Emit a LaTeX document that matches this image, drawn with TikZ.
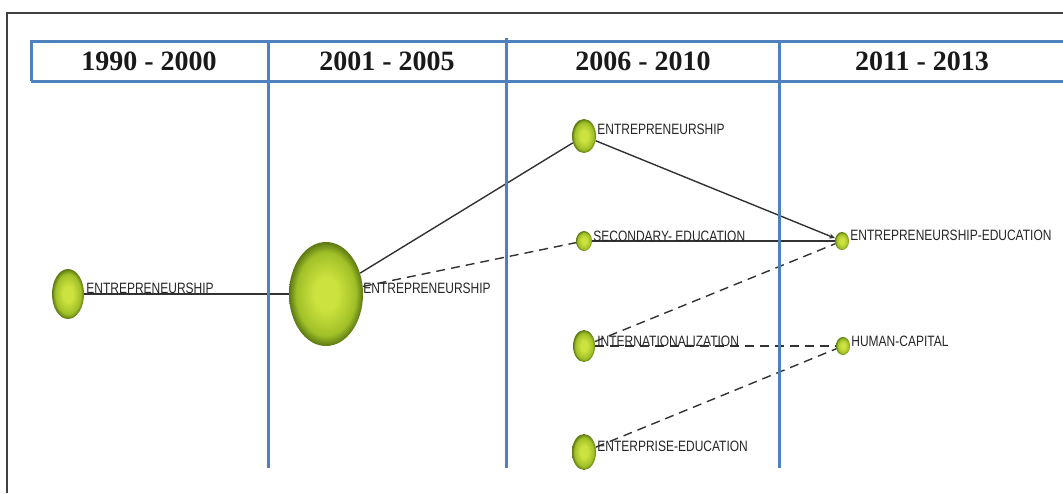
\documentclass[tikz,border=0pt]{standalone}
\usepackage{graphicx}
\usepackage{fontspec}
\setmainfont{Liberation Serif}
\newfontfamily\lblfont{Liberation Sans}
\usetikzlibrary{shapes.geometric,arrows.meta}
\pgfdeclarelayer{bg}
\pgfsetlayers{bg,main}
\definecolor{gcenter}{RGB}{204,226,62}
\definecolor{gmid}{RGB}{160,192,40}
\definecolor{gedge}{RGB}{92,120,18}
\definecolor{tlblue}{RGB}{79,129,189}
\definecolor{edgegray}{RGB}{50,50,50}
\pgfdeclareradialshading{greenball}{\pgfpoint{0bp}{0bp}}{color(0bp)=(gcenter); color(8bp)=(gcenter); color(20bp)=(gmid); color(25bp)=(gedge); color(50bp)=(gedge)}
\newcommand{\lbltext}[1]{\scalebox{0.8}[1]{#1}}
\begin{document}
\begin{tikzpicture}[x=1pt,y=-1pt,
  ball/.style={ellipse, inner sep=0pt, shading=greenball, draw=none},
  lbl/.style={anchor=west, inner sep=0pt, font=\lblfont\fontsize{15}{15}\selectfont, text=black!85},
  hdr/.style={font=\bfseries\fontsize{28}{28}\selectfont, text=black!90},
  tl/.style={draw=tlblue, line width=3pt},
  link/.style={draw=edgegray, line width=1.4pt},
  weak/.style={link, dash pattern=on 9pt off 6pt}]
\useasboundingbox (0,0) rectangle (1063,493);
% frame
\draw[line width=2pt, black!75] (7,493) -- (7,13) -- (1063,13);
% header and timeline columns
\draw[tl] (31,81) -- (31,41) -- (1063,41);
\draw[tl] (31,81) -- (1063,81);
\draw[tl] (268,41) -- (268,468);
\draw[tl] (506,38) -- (506,468);
\draw[tl] (779,41) -- (779,468);
\node[hdr] (h1) at (149,61) {1990 - 2000};
\node[hdr] (h2) at (387,61) {2001 - 2005};
\node[hdr] (h3) at (643,61) {2006 - 2010};
\node[hdr] (h4) at (922,61) {2011 - 2013};
% nodes
\node[ball, minimum width=32pt, minimum height=50pt] (n1) at (68,294) {};
\node[ball, minimum width=74pt, minimum height=104pt] (n2) at (326,294) {};
\node[ball, minimum width=24pt, minimum height=34pt] (n3) at (584,136) {};
\node[ball, minimum width=16pt, minimum height=20pt] (n4) at (584,241) {};
\node[ball, minimum width=22pt, minimum height=32pt] (n5) at (584,346) {};
\node[ball, minimum width=24pt, minimum height=36pt] (n6) at (584,452) {};
\node[ball, minimum width=14pt, minimum height=18pt] (n7) at (842,241) {};
\node[ball, minimum width=14pt, minimum height=18pt] (n8) at (843,346) {};
% labels
\node[lbl] (l1) at ([xshift=2pt,yshift=6pt]n1.east) {\lbltext{ENTREPRENEURSHIP}};
\node[lbl] (l2) at ([xshift=0pt,yshift=6pt]n2.east) {\lbltext{ENTREPRENEURSHIP}};
\node[lbl] (l3) at ([xshift=1pt,yshift=7pt]n3.east) {\lbltext{ENTREPRENEURSHIP}};
\node[lbl] (l4) at ([xshift=1pt,yshift=5pt]n4.east) {\lbltext{SECONDARY- EDUCATION}};
\node[lbl] (l5) at ([xshift=2pt,yshift=5pt]n5.east) {\lbltext{INTERNATIONALIZATION}};
\node[lbl] (l6) at ([xshift=1pt,yshift=6pt]n6.east) {\lbltext{ENTERPRISE-EDUCATION}};
\node[lbl] (l7) at ([xshift=1pt,yshift=6pt]n7.east) {\lbltext{ENTREPRENEURSHIP-EDUCATION}};
\node[lbl] (l8) at ([xshift=1pt,yshift=5pt]n8.east) {\lbltext{HUMAN-CAPITAL}};
% connectors
\begin{pgfonlayer}{bg}
\draw[link] (n1) -- (n2);
\draw[link] (n2) -- (n3);
\draw[weak] (n2) -- (n4);
\draw[link, -{Stealth[length=6pt,width=5pt]}] (n3) -- (n7);
\draw[link] (n4) -- (n7);
\draw[weak] (n5) -- (n7);
\draw[weak] (n5) -- (n8);
\draw[weak] (n6) -- (n8);
\end{pgfonlayer}
\end{tikzpicture}
\end{document}
